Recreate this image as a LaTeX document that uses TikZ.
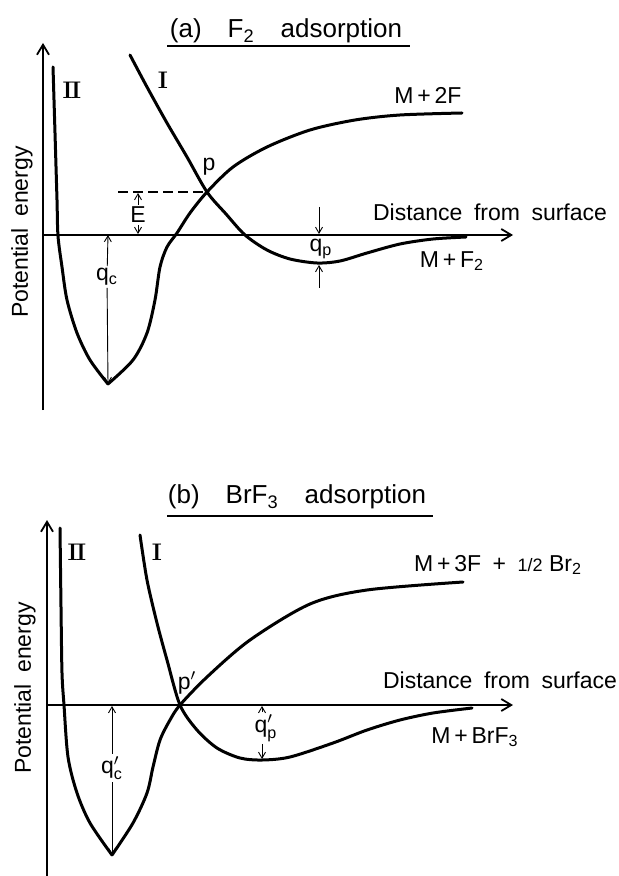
\documentclass[tikz,border=0pt]{standalone}
\usepackage{fontspec}
\setsansfont{Liberation Sans}
\setmathsf{Liberation Sans}
\usetikzlibrary{arrows.meta}

\begin{document}
\begin{tikzpicture}[x=0.5pt,y=-0.5pt,
    every node/.style={font=\sffamily\fontsize{11.5}{13}\selectfont, inner sep=1pt},
    title/.style={font=\sffamily\fontsize{13}{15}\selectfont},
    curve/.style={line width=1.5pt, line cap=round, line join=round},
    axisline/.style={line width=0.9pt, -{Straight Barb[length=5pt,width=6pt]}},
    gaparrow/.style={line width=0.45pt, -{Straight Barb[length=3pt,width=3.5pt]}},
    numeral/.style={font=\rmfamily\bfseries\fontsize{12}{13}\selectfont}]
        \useasboundingbox (0,0) rectangle (619,876);
        %(a) F2 adsorption
        \coordinate (ya0) at (43,410);
        \coordinate (ya1) at (43,43);
        \coordinate (xa0) at (43,235);
        \coordinate (xa1) at (513,235);
        \coordinate (p) at (207,192);
        \coordinate (dasha) at (118,192);
        \coordinate (mina) at (108,384);
        \coordinate (qca) at (108,235);
        \coordinate (Etop) at (138,193);
        \coordinate (Ebot) at (138,234);
        \coordinate (qpa0) at (319,207);
        \coordinate (qpa1) at (319,234);
        \coordinate (qpa2) at (319,288);
        \coordinate (qpa3) at (319,265);
        %Title
        \node[title] (titlea) at (286,31) {(a)\quad F\textsubscript{2}\quad adsorption};
        \draw[line width=0.6pt] (167,46) -- (410,46);
        %Axis
        \draw[axisline] (ya0) -- (ya1);
        \draw[axisline] (xa0) -- (xa1);
        \node[rotate=90] (ylaba) at (22,232) {Potential\enspace energy};
        \node (xlaba) at (490,212) {Distance\enspace from\enspace surface};
        %Curves
        \draw[curve] plot[smooth] coordinates {(53,67) (55,133) (57,200) (58,236) (62,267) (67,300) (77,333) (90,360) (mina)};
        \draw[curve] plot[smooth] coordinates {(mina) (133,360) (147,333) (155,300) (160,267) (167,247) (177,233) (190,213) (p) (233,167) (267,147) (310,130) (355,120) (400,115) (462,113)};
        \draw[curve] plot[smooth] coordinates {(130,55) (147,87) (167,123) (187,157) (p) (226,214) (245,235) (267,250) (290,259) (317,263) (340,261) (367,253) (400,244) (433,239) (466,237)};
        \draw[line width=0.6pt, dash pattern=on 5pt off 2.5pt] (dasha) -- (p);
        %Labels
        \node[numeral] (IIa) at (72,90) {I\kern-0.8ptI};
        \node[numeral] (Ia) at (163,80) {I};
        \node (pa) at (209,167) {p};
        \node (Ea) at (138,215) {E};
        \draw[gaparrow] (Ea) -- (Etop);
        \draw[gaparrow] (Ea) -- (Ebot);
        \node (qclaba) at (107,277) {$\mathsf{q}_{\mathsf{c}}$};
        \draw[gaparrow] (qclaba) -- (qca);
        \draw[gaparrow] (qclaba) -- (mina);
        \node (qplaba) at (321,249) {$\mathsf{q}_{\mathsf{p}}$};
        \draw[gaparrow] (qpa0) -- (qpa1);
        \draw[gaparrow] (qpa2) -- (qpa3);
        \node (m2f) at (428,95) {M\,+\,2F};
        \node (mf2) at (452,261) {M\,+\,F\textsubscript{2}};

        %(b) BrF3 adsorption
        \coordinate (yb0) at (47,876);
        \coordinate (yb1) at (47,520);
        \coordinate (xb0) at (47,705);
        \coordinate (xb1) at (513,705);
        \coordinate (pp) at (180,705);
        \coordinate (minb) at (112,855);
        \coordinate (qcb) at (112,706);
        \coordinate (qpb0) at (262,706);
        \coordinate (qpb1) at (262,759);
        %Title
        \node[title] (titleb) at (297,497) {(b)\quad BrF\textsubscript{3}\quad adsorption};
        \draw[line width=0.6pt] (167,516) -- (433,516);
        %Axis
        \draw[axisline] (yb0) -- (yb1);
        \draw[axisline] (xb0) -- (xb1);
        \node[rotate=90] (ylabb) at (25,688) {Potential\enspace energy};
        \node (xlabb) at (500,680) {Distance\enspace from\enspace surface};
        %Curves
        \draw[curve] plot[smooth] coordinates {(60,528) (61,607) (62,673) (64,705) (68,757) (77,793) (90,823) (minb)};
        \draw[curve] plot[smooth] coordinates {(minb) (133,823) (147,793) (153,767) (160,740) (170,720) (pp) (207,677) (250,640) (310,604) (367,590) (463,582)};
        \draw[curve] plot[smooth] coordinates {(140,535) (147,580) (157,623) (167,660) (pp) (197,730) (217,748) (240,758) (262,760) (290,757) (333,743) (367,730) (400,720) (433,713) (472,708)};
        %Labels
        \node[numeral] (IIb) at (77,552) {I\kern-0.8ptI};
        \node[numeral] (Ib) at (157,552) {I};
        \node (pb) at (187,683) {$\mathsf{p}'$};
        \node (qclabb) at (112,768) {$\mathsf{q}'_{\mathsf{c}}$};
        \draw[gaparrow] (qclabb) -- (qcb);
        \draw[gaparrow] (qclabb) -- (minb);
        \node (qplabb) at (266,728) {$\mathsf{q}'_{\mathsf{p}}$};
        \draw[gaparrow] (qplabb.north west -| qpb0) -- (qpb0);
        \draw[gaparrow] (qplabb.south west -| qpb1) -- (qpb1);
        \node (m3f) at (498,565) {M\,+\,3F\enspace+\enspace{\small 1/2} Br\textsubscript{2}};
        \node (mbrf3) at (475,737) {M\,+\,BrF\textsubscript{3}};
      \end{tikzpicture}
\end{document}
